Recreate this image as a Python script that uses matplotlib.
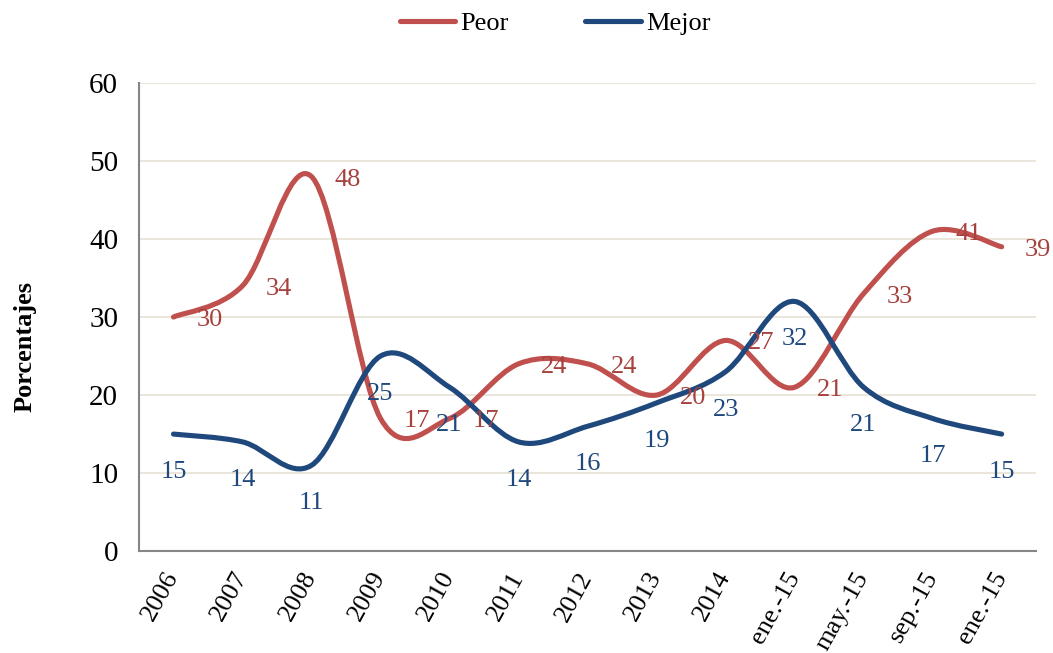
import matplotlib.pyplot as plt
from matplotlib.path import Path
from matplotlib.patches import PathPatch
from matplotlib.lines import Line2D

categories = ['2006', '2007', '2008', '2009', '2010', '2011', '2012', '2013', '2014',
              'ene.-15', 'may.-15', 'sep.-15', 'ene.-15']
peor = [30, 34, 48, 17, 17, 24, 24, 20, 27, 21, 33, 41, 39]
mejor = [15, 14, 11, 25, 21, 14, 16, 19, 23, 32, 21, 17, 15]

RED = '#C0504D'
RED_TXT = '#A6413E'
BLUE = '#1F497D'

plt.rcParams['font.family'] = ['Liberation Serif', 'DejaVu Serif']


def smooth_path(xs, ys):
    # Excel-like smoothed line: cubic Bezier through every point
    pts = list(zip(xs, ys))
    n = len(pts)
    verts = [pts[0]]
    codes = [Path.MOVETO]
    for i in range(n - 1):
        p0 = pts[i - 1] if i > 0 else pts[i]
        p1 = pts[i]
        p2 = pts[i + 1]
        p3 = pts[i + 2] if i + 2 < n else pts[i + 1]
        c1 = (p1[0] + (p2[0] - p0[0]) / 6, p1[1] + (p2[1] - p0[1]) / 6)
        c2 = (p2[0] - (p3[0] - p1[0]) / 6, p2[1] - (p3[1] - p1[1]) / 6)
        verts += [c1, c2, p2]
        codes += [Path.CURVE4] * 3
    return Path(verts, codes)


fig = plt.figure(figsize=(10.53, 6.53), dpi=100)
ax = fig.add_axes([0.132, 0.156, 0.852, 0.717])

xs = [i + 0.5 for i in range(len(categories))]

for vals, col in [(peor, RED), (mejor, BLUE)]:
    patch = PathPatch(smooth_path(xs, vals), facecolor='none', edgecolor=col,
                      lw=3.7, capstyle='round', joinstyle='round', zorder=3)
    ax.add_patch(patch)

for x, v in zip(xs, peor):
    ax.annotate(str(v), (x, v), xytext=(36, -3), textcoords='offset pixels',
                ha='center', va='center', color=RED_TXT, fontsize=19, zorder=4)
for x, v in zip(xs, mejor):
    ax.annotate(str(v), (x, v), xytext=(0, -38), textcoords='offset pixels',
                ha='center', va='center', color=BLUE, fontsize=19, zorder=4)

ax.set_xlim(0, len(categories))
ax.set_ylim(0, 60)
ax.set_yticks(range(0, 61, 10))
ax.set_xticks(xs)
ax.set_xticklabels(categories, rotation=61, ha='right', va='center',
                   rotation_mode='anchor', fontsize=19)
ax.tick_params(axis='x', length=0, pad=16)
ax.tick_params(axis='y', length=0, pad=15, labelsize=21)
ax.grid(axis='y', color='#E6E2D6', lw=1.2)
ax.set_axisbelow(True)
for s in ['top', 'right']:
    ax.spines[s].set_visible(False)
for s in ['left', 'bottom']:
    ax.spines[s].set_color('#868686')
    ax.spines[s].set_linewidth(1.5)

ax.set_ylabel('Porcentajes', fontsize=19, fontweight='bold')
ax.yaxis.set_label_coords(-0.114, 0.438)

handles = [Line2D([], [], color=RED, lw=3.7, solid_capstyle='round'),
           Line2D([], [], color=BLUE, lw=3.7, solid_capstyle='round')]
fig.legend(handles, ['Peor', 'Mejor'], loc='upper center', bbox_to_anchor=(0.527, 1.018),
           ncol=2, frameon=False, fontsize=19, handlelength=2.1, handletextpad=0.2,
           columnspacing=2.9)

fig.savefig('out.png', dpi=100)
